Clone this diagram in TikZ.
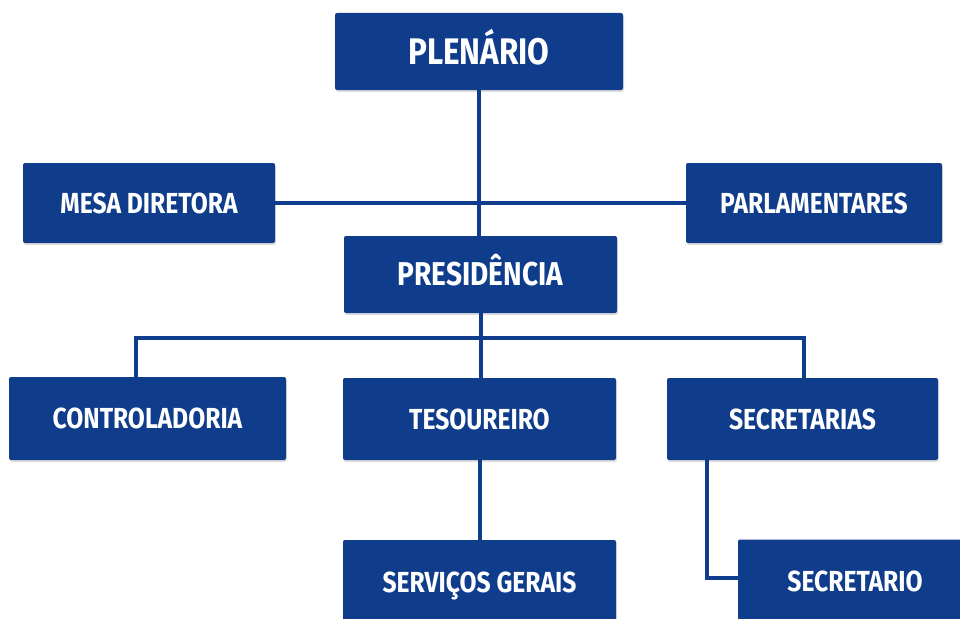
\documentclass[tikz,border=0pt]{standalone}
\usepackage{fontspec}
\newfontfamily\orgfont{Fira Sans}[FakeStretch=0.85]
\usetikzlibrary{shadows}
\definecolor{navy}{RGB}{16,61,139}
\begin{document}
\begin{tikzpicture}
    [
    x=1pt,y=-1pt,
    box/.style={rectangle,rounded corners=2pt,fill=navy,text=white,inner sep=0pt,
      text height=20pt,text depth=0pt,
      font=\orgfont\bfseries\fontsize{29}{29}\selectfont,
      drop shadow={opacity=0.25,shadow xshift=1pt,shadow yshift=-2pt}},
    link/.style={draw=navy,line width=4pt}
    ]
    \clip (0,0) rectangle (960,618);
    \fill [white] (0,0) rectangle (960,618);
    \node (plenario) at (479,51.5) [box,minimum width=288pt,minimum height=77pt,text height=25.5pt,
      font=\orgfont\bfseries\fontsize{37}{37}\selectfont] {PLENÁRIO};
    \node (mesa) at (149,203) [box,minimum width=252pt,minimum height=80pt] {MESA DIRETORA};
    \node (parlamentares) at (814,203) [box,minimum width=256pt,minimum height=80pt] {PARLAMENTARES};
    \node (presidencia) at (480.5,274.5) [box,minimum width=273pt,minimum height=77pt,text height=22.7pt,
      font=\orgfont\bfseries\fontsize{33}{33}\selectfont] {PRESIDÊNCIA};
    \node (controladoria) at (147.5,418.5) [box,minimum width=277pt,minimum height=83pt] {CONTROLADORIA};
    \node (tesoureiro) at (479.5,419) [box,minimum width=273pt,minimum height=82pt] {TESOUREIRO};
    \node (secretarias) at (802.5,419) [box,minimum width=271pt,minimum height=82pt] {SECRETARIAS};
    \node (servicos) at (479.5,582) [box,minimum width=273pt,minimum height=84pt] {SERVIÇOS GERAIS};
    \node (secretario) at (855,581.5) [box,minimum width=234pt,minimum height=84pt] {SECRETARIO};

    \coordinate (busl) at (136,338);
    \coordinate (busr) at (804,338);
    \coordinate (sbend) at (707,578);
    \draw [link] (plenario) -- (plenario |- presidencia.north);
    \draw [link] (mesa) -- (parlamentares);
    \draw [link] (presidencia) -- (presidencia |- tesoureiro.north);
    \draw [link] (controladoria.north -| busl) -- (busl) -- (busr) -- (secretarias.north -| busr);
    \draw [link] (tesoureiro) -- (tesoureiro |- servicos.north);
    \draw [link] (secretarias.south -| sbend) |- (secretario.west |- sbend);
  \end{tikzpicture}
\end{document}
